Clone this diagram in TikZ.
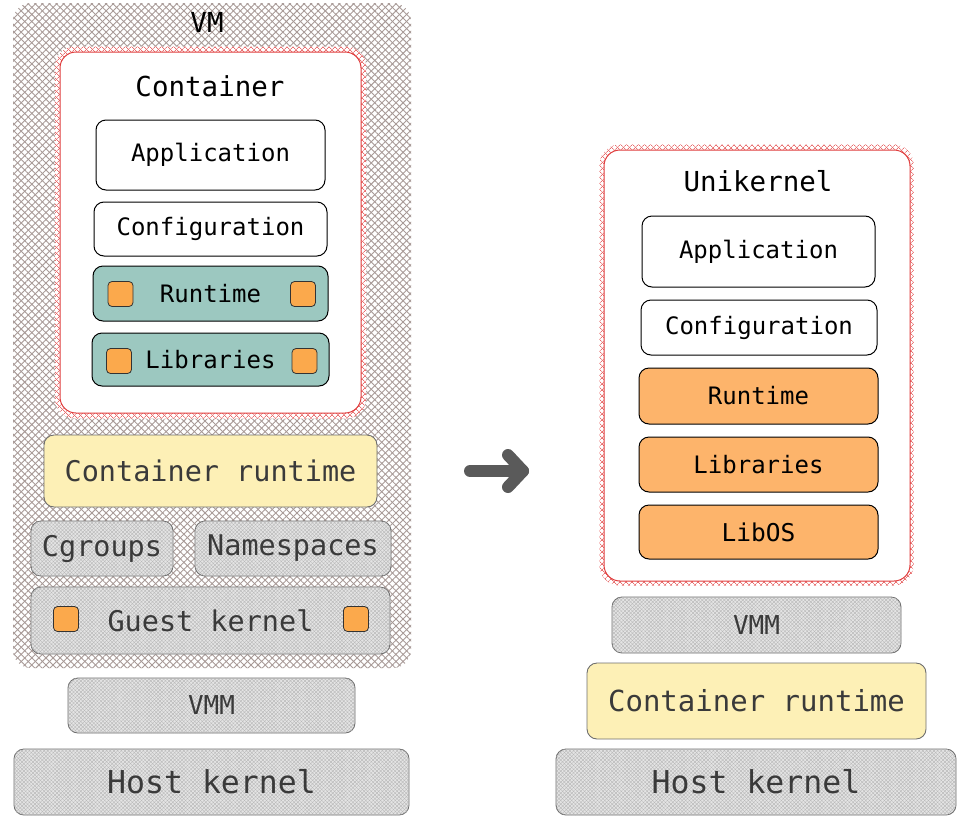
\documentclass[tikz,border=0pt]{standalone}
\usepackage{fontspec}
\setmainfont{DejaVu Sans Mono}
\usetikzlibrary{patterns.meta,arrows.meta}

\definecolor{hatchbrown}{HTML}{A89A97}
\definecolor{hatchgray}{HTML}{B4B4B4}
\definecolor{boxgray}{HTML}{E4E4E4}
\definecolor{edgegray}{HTML}{6E6E6E}
\definecolor{redline}{HTML}{E03C3C}
\definecolor{redhatch}{HTML}{E87070}
\definecolor{tealfill}{HTML}{9CC8C0}
\definecolor{orangesq}{HTML}{FBA94C}
\definecolor{orangebox}{HTML}{FDB46B}
\definecolor{yellowfill}{HTML}{FDF0B6}
\definecolor{textgray}{HTML}{3A3A3A}
\definecolor{arrowgray}{HTML}{5A5A5A}

\tikzset{
  x=1pt, y=-1pt,
  every node/.style={inner sep=0pt, outer sep=0pt},
  plainbox/.style={draw=black, line width=1pt, rounded corners=10pt, fill=white,
    font=\fontsize{24}{24}\selectfont},
  tealbox/.style={plainbox, fill=tealfill},
  orangebox/.style={plainbox, fill=orangebox},
  sq/.style={draw=black!80, line width=0.8pt, fill=orangesq, rounded corners=4pt,
    minimum width=25pt, minimum height=25pt},
  grayhatch/.style={draw=edgegray, line width=0.9pt, rounded corners=10pt, fill=boxgray,
    text=textgray, font=\fontsize{28.5}{28.5}\selectfont,
    postaction={pattern={Lines[angle=45,distance=2.6pt,line width=0.35pt]}, pattern color=hatchgray},
    postaction={pattern={Lines[angle=-45,distance=2.6pt,line width=0.35pt]}, pattern color=hatchgray}},
  yellowbox/.style={draw=edgegray, line width=0.9pt, rounded corners=10pt, fill=yellowfill,
    text=textgray, font=\fontsize{28.5}{28.5}\selectfont},
  vmhatch/.style={rounded corners=18pt, fill=white,
    postaction={pattern={Lines[angle=45,distance=5pt,line width=0.9pt]}, pattern color=hatchbrown},
    postaction={pattern={Lines[angle=-45,distance=5pt,line width=0.9pt]}, pattern color=hatchbrown}},
  redhalo/.style={rounded corners=20pt, fill=white,
    postaction={pattern={Lines[angle=45,distance=4pt,line width=0.8pt]}, pattern color=redhatch},
    postaction={pattern={Lines[angle=-45,distance=4pt,line width=0.8pt]}, pattern color=redhatch}},
  redbox/.style={draw=redline, line width=1pt, rounded corners=16pt, fill=white},
  title/.style={font=\fontsize{27.5}{27.5}\selectfont},
  bigarrow/.style={draw=arrowgray, line width=12pt, line cap=round, line join=round}
}

\begin{document}
\begin{tikzpicture}
\useasboundingbox (0,0) rectangle (961,817);

% ---------- left stack: container inside a VM ----------
\node[vmhatch, minimum width=398pt, minimum height=665pt] (vm) at (212,335.5) {};
\node[title] (vmlabel) at (207,22) {VM};

\node[redhalo, minimum width=311pt, minimum height=372pt] (ctrhalo) at (210.5,232.5) {};
\node[redbox, minimum width=301pt, minimum height=361pt] (ctr) at (210.5,232.5) {};
\node[title] (ctrlabel) at (210,86) {Container};

\node[plainbox, minimum width=229pt, minimum height=70pt] (appL) at (210.5,155) {Application};
\node[plainbox, minimum width=233pt, minimum height=54pt] (confL) at (210.5,229) {Configuration};
\node[tealbox, minimum width=235pt, minimum height=55pt] (runL) at (210.5,293.5) {Runtime};
\node[tealbox, minimum width=237pt, minimum height=53pt] (libL) at (210.5,359.5) {Libraries};
\node[sq] (runLa) at (120.5,294) {};
\node[sq] (runLb) at (303,294) {};
\node[sq] (libLa) at (119,361) {};
\node[sq] (libLb) at (304.5,361) {};

\node[yellowbox, minimum width=333pt, minimum height=72pt] (crL) at (210.5,471) {Container runtime};
\node[grayhatch, minimum width=142pt, minimum height=55pt] (cg) at (102,548.5) {Cgroups};
\node[grayhatch, minimum width=196pt, minimum height=55pt] (ns) at (293,548.5) {Namespaces};
\node[grayhatch, minimum width=359pt, minimum height=67pt] (gk) at (210.5,620.5) {Guest kernel};
\node[sq] (gka) at (66,619) {};
\node[sq] (gkb) at (356,619) {};

\node[grayhatch, font=\fontsize{26}{26}\selectfont, minimum width=287pt, minimum height=55pt] (vmmL) at (211.5,705.5) {VMM};
\node[grayhatch, font=\fontsize{31.5}{31.5}\selectfont, minimum width=395pt, minimum height=66pt] (hkL) at (211.5,782) {Host kernel};

% ---------- transition arrow ----------
\coordinate (arA) at (470,471);
\coordinate (arB) at (523,471);
\coordinate (arT) at (508,455);
\coordinate (arU) at (508,487);
\draw[bigarrow] (arA) -- (arB);
\draw[bigarrow] (arT) -- (arB) -- (arU);

% ---------- right stack: unikernel ----------
\node[redhalo, minimum width=314pt, minimum height=441pt] (unihalo) at (756.5,365) {};
\node[redbox, minimum width=306pt, minimum height=431pt] (uni) at (757,365.5) {};
\node[title] (unilabel) at (758,181) {Unikernel};

\node[plainbox, minimum width=233pt, minimum height=71pt] (appR) at (758.5,251.5) {Application};
\node[plainbox, minimum width=236pt, minimum height=55pt] (confR) at (759,327.5) {Configuration};
\node[orangebox, minimum width=239pt, minimum height=56pt] (runR) at (758.5,396) {Runtime};
\node[orangebox, minimum width=239pt, minimum height=55pt] (libR) at (758.5,464.5) {Libraries};
\node[orangebox, font=\fontsize{24.5}{24.5}\selectfont, minimum width=239pt, minimum height=54pt] (libos) at (758.5,532) {LibOS};

\node[grayhatch, font=\fontsize{26}{26}\selectfont, minimum width=289pt, minimum height=56pt] (vmmR) at (756.5,625) {VMM};
\node[yellowbox, font=\fontsize{29}{29}\selectfont, minimum width=339pt, minimum height=76pt] (crR) at (756.5,701) {Container runtime};
\node[grayhatch, font=\fontsize{31.5}{31.5}\selectfont, minimum width=400pt, minimum height=66pt] (hkR) at (756,782) {Host kernel};
\end{tikzpicture}
\end{document}
